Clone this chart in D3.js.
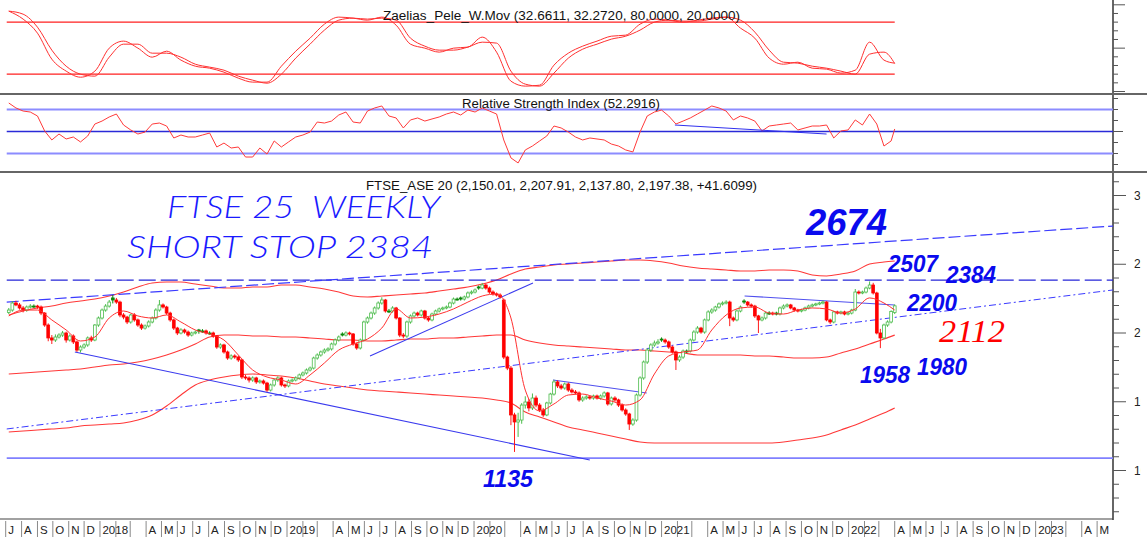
<!DOCTYPE html>
<html>
<head>
<meta charset="UTF-8">
<title>FTSE 25 weekly</title>
<script src="https://d3js.org/d3.v7.min.js"></script>
<style>
  body { margin: 0; background: #fff; }
  svg { display: block; font-family: "Liberation Sans", Arial, sans-serif; }
  .title { font-size: 12.5px; fill: #111; }
  .month { font-size: 11.5px; fill: #222; }
  .plabel { font-size: 12px; fill: #222; }
  .hand { font-family: Lato, "Open Sans", sans-serif; font-style: italic; font-weight: 300; fill: #1a1aff; white-space: pre; }
  .lvl { font-style: italic; font-weight: bold; fill: #0a0aee; }
</style>
</head>
<body>
<svg id="chart" width="1147" height="542"></svg>
<script>
// weekly candles, first bar week ending 2017-07-07
const opens = [
  2150, 2167, 2218, 2204, 2182, 2167, 2189, 2196, 2196, 2189,
  2145, 2058, 1964, 1949, 1971, 1985, 2000, 1949, 1978, 1935,
  1876, 1898, 1913, 1964, 1949, 2058, 2109, 2167, 2196, 2255,
  2240, 2225, 2131, 2116, 2080, 2131, 2095, 2058, 2036, 2051,
  2080, 2109, 2167, 2204, 2189, 2145, 2095, 2036, 2000, 2022,
  2007, 1985, 2000, 2022, 2015, 2015, 2000, 2000, 1978, 1898,
  1913, 1862, 1818, 1833, 1825, 1804, 1680, 1673, 1658, 1673,
  1644, 1651, 1636, 1585, 1622, 1658, 1673, 1622, 1615, 1651,
  1658, 1673, 1695, 1709, 1731, 1745, 1818, 1840, 1862, 1876,
  1884, 1920, 1949, 1993, 1985, 2000, 1993, 1920, 1891, 1949,
  2080, 2109, 2145, 2182, 2218, 2240, 2160, 2160, 2182, 2109,
  1985, 1978, 2080, 2124, 2145, 2131, 2160, 2109, 2095, 2138,
  2160, 2175, 2182, 2189, 2218, 2247, 2255, 2247, 2262, 2291,
  2298, 2335, 2327, 2349, 2327, 2298, 2284, 2276, 2240, 1825,
  1745, 1404, 1353, 1367, 1476, 1498, 1455, 1527, 1476, 1440,
  1404, 1491, 1556, 1644, 1615, 1600, 1629, 1585, 1571, 1564,
  1513, 1527, 1535, 1527, 1542, 1527, 1542, 1564, 1484, 1527,
  1513, 1476, 1440, 1411, 1338, 1367, 1549, 1673, 1789, 1876,
  1913, 1927, 1956, 1949, 1935, 1898, 1862, 1804, 1825, 1869,
  1869, 1949, 2007, 2036, 2007, 2095, 2153, 2167, 2189, 2211,
  2218, 2225, 2109, 2095, 2160, 2233, 2225, 2204, 2196, 2124,
  2095, 2109, 2145, 2145, 2145, 2138, 2182, 2196, 2204, 2182,
  2167, 2160, 2167, 2182, 2196, 2204, 2211, 2218, 2225, 2095,
  2080, 2153, 2145, 2153, 2138, 2145, 2167, 2298, 2291, 2298,
  2327, 2349, 2291, 2000, 1964, 2058, 2080, 2150.01
];
const highs = [
  2182, 2232, 2235, 2218, 2196, 2200, 2210, 2208, 2205, 2200,
  2152, 2070, 1985, 1990, 1998, 2015, 2010, 1990, 1990, 1945,
  1910, 1925, 1975, 1980, 2065, 2120, 2178, 2210, 2240, 2276,
  2255, 2235, 2145, 2125, 2140, 2145, 2105, 2070, 2062, 2092,
  2120, 2180, 2240, 2215, 2198, 2155, 2105, 2045, 2035, 2032,
  2018, 2010, 2018, 2030, 2028, 2025, 2012, 2010, 1985, 1925,
  1922, 1872, 1845, 1845, 1835, 1812, 1695, 1685, 1685, 1682,
  1662, 1662, 1645, 1632, 1668, 1685, 1682, 1632, 1662, 1670,
  1685, 1705, 1720, 1742, 1756, 1828, 1852, 1872, 1888, 1896,
  1930, 1960, 1982, 2005, 2012, 2010, 2000, 1930, 1960, 2090,
  2120, 2156, 2193, 2230, 2260, 2248, 2175, 2195, 2190, 2115,
  2000, 2090, 2135, 2156, 2155, 2170, 2168, 2118, 2148, 2170,
  2185, 2192, 2200, 2228, 2258, 2258, 2265, 2272, 2302, 2310,
  2324, 2345, 2364, 2360, 2338, 2310, 2295, 2288, 2250, 1835,
  1760, 1420, 1420, 1490, 1540, 1520, 1560, 1545, 1490, 1455,
  1500, 1565, 1660, 1656, 1630, 1640, 1640, 1598, 1585, 1575,
  1540, 1548, 1545, 1552, 1552, 1553, 1575, 1572, 1538, 1540,
  1522, 1488, 1452, 1420, 1380, 1560, 1685, 1800, 1890, 1925,
  1945, 1955, 1968, 1960, 1945, 1908, 1872, 1838, 1880, 1880,
  1960, 2020, 2050, 2045, 2105, 2165, 2180, 2198, 2222, 2230,
  2238, 2235, 2120, 2172, 2200, 2245, 2232, 2215, 2205, 2132,
  2120, 2156, 2158, 2155, 2155, 2192, 2208, 2215, 2212, 2190,
  2176, 2176, 2192, 2206, 2214, 2220, 2228, 2236, 2232, 2105,
  2162, 2162, 2162, 2162, 2155, 2176, 2320, 2310, 2308, 2338,
  2375, 2365, 2300, 2030, 2068, 2092, 2165, 2207.91
];
const lows = [
  2138, 2155, 2195, 2170, 2150, 2155, 2178, 2182, 2176, 2130,
  2045, 1940, 1920, 1935, 1960, 1972, 1930, 1938, 1920, 1862,
  1858, 1885, 1900, 1935, 1940, 2045, 2098, 2155, 2185, 2215,
  2212, 2115, 2100, 2065, 2068, 2082, 2045, 2022, 2025, 2040,
  2070, 2098, 2155, 2178, 2132, 2082, 2022, 1985, 1990, 1995,
  1972, 1975, 1990, 1995, 2002, 1988, 1988, 1965, 1885, 1885,
  1850, 1805, 1806, 1812, 1790, 1665, 1660, 1640, 1645, 1630,
  1632, 1625, 1572, 1575, 1610, 1645, 1610, 1600, 1605, 1640,
  1648, 1662, 1684, 1698, 1720, 1735, 1806, 1828, 1850, 1865,
  1872, 1908, 1938, 1975, 1975, 1982, 1908, 1878, 1880, 1938,
  2068, 2098, 2132, 2170, 2206, 2148, 2145, 2148, 2098, 1970,
  1962, 1965, 2068, 2112, 2120, 2120, 2098, 2082, 2085, 2128,
  2150, 2165, 2172, 2180, 2208, 2236, 2236, 2236, 2252, 2280,
  2288, 2315, 2318, 2315, 2285, 2272, 2265, 2250, 1810, 1730,
  1330, 1135, 1244, 1340, 1450, 1430, 1440, 1460, 1425, 1390,
  1395, 1480, 1545, 1600, 1588, 1588, 1572, 1560, 1552, 1500,
  1500, 1515, 1515, 1515, 1516, 1515, 1530, 1472, 1472, 1500,
  1462, 1428, 1398, 1295, 1325, 1355, 1538, 1660, 1775, 1862,
  1900, 1915, 1936, 1922, 1885, 1850, 1731, 1790, 1812, 1855,
  1858, 1938, 1995, 1995, 1995, 2085, 2140, 2155, 2178, 2200,
  2208, 2050, 2082, 2085, 2150, 2212, 2192, 2185, 2110, 2000,
  2085, 2098, 2132, 2128, 2128, 2128, 2172, 2186, 2172, 2155,
  2150, 2150, 2158, 2172, 2186, 2195, 2202, 2208, 2085, 2065,
  2070, 2135, 2135, 2128, 2128, 2135, 2158, 2280, 2282, 2288,
  2318, 2280, 1990, 1890, 1955, 2045, 2070, 2137.8
];
const closes = [
  2167, 2218, 2204, 2182, 2167, 2189, 2196, 2196, 2189, 2145,
  2058, 1964, 1949, 1971, 1985, 2000, 1949, 1978, 1935, 1876,
  1898, 1913, 1964, 1949, 2058, 2109, 2167, 2196, 2225, 2240,
  2225, 2131, 2116, 2080, 2131, 2095, 2058, 2036, 2051, 2080,
  2109, 2167, 2204, 2189, 2145, 2095, 2036, 2000, 2022, 2007,
  1985, 2000, 2007, 2015, 2015, 2000, 2000, 1978, 1898, 1913,
  1862, 1818, 1833, 1825, 1804, 1680, 1673, 1658, 1673, 1644,
  1651, 1636, 1585, 1622, 1658, 1673, 1622, 1615, 1651, 1658,
  1673, 1695, 1709, 1731, 1745, 1818, 1840, 1862, 1876, 1884,
  1920, 1949, 1971, 1985, 2000, 1993, 1920, 1891, 1949, 2080,
  2109, 2145, 2182, 2218, 2240, 2160, 2160, 2182, 2109, 1985,
  1978, 2080, 2124, 2145, 2131, 2160, 2109, 2095, 2138, 2160,
  2175, 2182, 2189, 2218, 2247, 2247, 2247, 2262, 2291, 2298,
  2313, 2327, 2349, 2327, 2298, 2284, 2276, 2262, 1825, 1745,
  1404, 1353, 1367, 1476, 1498, 1455, 1527, 1476, 1440, 1404,
  1491, 1556, 1644, 1615, 1600, 1629, 1585, 1571, 1564, 1513,
  1527, 1535, 1527, 1542, 1527, 1542, 1564, 1484, 1527, 1513,
  1476, 1440, 1411, 1338, 1367, 1549, 1673, 1789, 1876, 1913,
  1927, 1935, 1949, 1935, 1898, 1862, 1804, 1825, 1869, 1869,
  1949, 2007, 2036, 2007, 2095, 2153, 2167, 2189, 2211, 2218,
  2225, 2109, 2095, 2160, 2189, 2225, 2204, 2196, 2124, 2095,
  2109, 2145, 2145, 2138, 2138, 2182, 2196, 2204, 2182, 2167,
  2160, 2167, 2182, 2196, 2204, 2211, 2218, 2225, 2095, 2080,
  2153, 2145, 2153, 2138, 2145, 2167, 2298, 2291, 2298, 2327,
  2349, 2291, 2000, 1964, 2058, 2080, 2156, 2197.38
];

// indicator readings, one value every 4th week (last one = last week)
const fastMA = [
  2124, 2167, 2167, 2095, 2022, 1942, 1971, 2109, 2160, 2124,
  2109, 2131, 2080, 2022, 1993, 1949, 1840, 1731, 1680, 1658,
  1629, 1695, 1782, 1876, 1920, 1956, 2036, 2175, 2109, 2116,
  2138, 2175, 2225, 2269, 2284, 2109, 1585, 1433, 1484, 1549,
  1556, 1527, 1505, 1476, 1513, 1702, 1833, 1862, 1876, 2022,
  2131, 2182, 2189, 2145, 2138, 2167, 2182, 2175, 2145, 2175,
  2255, 2218, 2167
];
const bandUpper = [
  2131, 2160, 2182, 2196, 2218, 2233, 2247, 2269, 2298, 2335,
  2364, 2371, 2371, 2356, 2342, 2327, 2327, 2335, 2335, 2349,
  2349, 2335, 2320, 2298, 2269, 2262, 2269, 2276, 2284, 2291,
  2305, 2320, 2335, 2356, 2385, 2429, 2465, 2480, 2495, 2502,
  2509, 2516, 2524, 2531, 2531, 2524, 2509, 2487, 2473, 2465,
  2458, 2451, 2451, 2458, 2458, 2451, 2422, 2415, 2429, 2451,
  2502, 2516, 2524
];
const bandMid = [
  1702, 1709, 1716, 1724, 1731, 1738, 1753, 1767, 1775, 1789,
  1811, 1840, 1876, 1920, 1971, 1985, 1985, 1978, 1978, 1971,
  1971, 1964, 1956, 1949, 1949, 1942, 1942, 1949, 1956, 1956,
  1964, 1964, 1971, 1978, 1985, 1985, 1949, 1927, 1913, 1905,
  1898, 1891, 1884, 1876, 1876, 1869, 1862, 1855, 1840, 1840,
  1840, 1840, 1833, 1833, 1825, 1818, 1818, 1825, 1855, 1884,
  1920, 1956, 1985
];
const bandLower = [
  1280, 1287, 1295, 1302, 1309, 1324, 1331, 1338, 1345, 1367,
  1404, 1469, 1549, 1622, 1658, 1680, 1695, 1702, 1695, 1687,
  1673, 1651, 1629, 1615, 1600, 1585, 1578, 1571, 1564, 1556,
  1549, 1542, 1535, 1527, 1513, 1491, 1425, 1389, 1353, 1316,
  1295, 1273, 1251, 1229, 1207, 1200, 1200, 1200, 1200, 1200,
  1200, 1200, 1200, 1200, 1207, 1222, 1236, 1258, 1295, 1331,
  1375, 1418, 1455
];
const oscFast = [
  92.7, 83.5, 67.3, 37.3, 23.5, 16.5, 23.5, 50, 58.1, 50,
  39.6, 46.5, 36.2, 29.2, 26.9, 22.3, 15.4, 10.8, 10.8, 29.2,
  46.5, 61.5, 77.7, 85.8, 84.6, 82.3, 85.8, 76.5, 54.6, 50,
  45.4, 50, 51.2, 62.7, 45.4, 11.9, 6.2, 7.3, 30.4, 44.2,
  52.3, 58.1, 63.8, 65, 77.7, 83.5, 82.3, 80, 82.3, 84.6,
  85.8, 73.1, 61.5, 38.5, 31.5, 33.8, 26.9, 25.8, 21.2, 24.6,
  56.9, 36.2, 32.66
];
const oscSlow = [
  92.7, 89.2, 74.2, 47.7, 29.2, 20, 17.7, 39.6, 54.6, 54.6,
  44.2, 44.2, 39.6, 31.5, 28.1, 24.6, 17.7, 13.1, 9.6, 20,
  38.5, 54.6, 70.8, 82.3, 84.6, 83.5, 84.6, 82.3, 61.5, 52.3,
  47.7, 47.7, 51.2, 56.9, 55.8, 23.5, 8.5, 6.2, 21.2, 38.5,
  48.8, 54.6, 60.4, 63.8, 70.8, 80, 82.3, 81.2, 81.2, 83.5,
  85.8, 82.3, 68.5, 47.7, 33.8, 32.7, 29.2, 26.9, 23.5, 20,
  43.1, 45.4, 32.27
];
// RSI, one value every 2nd week
const rsi = [
  75.9, 71.4, 68.6, 67.7, 64.1, 50.5, 42.3, 47.7, 43.2, 45,
  40.5, 45.9, 56.8, 59.5, 63.2, 65.9, 55.9, 51.4, 47.7, 49.5,
  56.8, 57.7, 55, 44.1, 46.8, 45, 45, 46.8, 48.6, 35.9,
  39.5, 35, 35.9, 26.8, 26.8, 35, 29.5, 41.4, 35.9, 40.5,
  45, 46.8, 49.5, 58.6, 57.7, 59.5, 65, 67.7, 58.6, 57.7,
  68.6, 71.4, 73.2, 64.1, 62.3, 53.2, 60.5, 62.3, 59.5, 61.4,
  63.2, 65.9, 67.7, 65, 69.5, 67.7, 71.4, 68.6, 65.9, 42.3,
  26, 21.4, 33.2, 36.8, 41.4, 45.9, 55, 53.2, 49.5, 45,
  42.3, 44.1, 43.2, 42.3, 38.6, 36.8, 33.2, 31.4, 49.5, 64.1,
  67.7, 69.5, 64.1, 56.8, 59.5, 62.3, 65.9, 69.5, 73.2, 71.4,
  68.6, 60.5, 64.1, 62.3, 59.5, 50.5, 55, 55.9, 56.8, 57.7,
  51.4, 53.2, 55, 55, 55.9, 44.1, 50.5, 51.4, 60.5, 55.9,
  65.9, 56.8, 36.8, 41.4, 52.29
];

// hand drawn lines
const channelTop = [["2017-07-03", 2225], ["2023-06-01", 2778]];
const channelBottom = [["2017-07-03", 1302], ["2023-06-01", 2313]];
const fallLine = [["2017-11-13", 1862], ["2020-08-14", 1076]];
const rise2019 = [["2019-06-12", 1833], ["2020-04-25", 2364]];
const drift2020 = [["2020-06-03", 1658], ["2020-12-03", 1564]];
const cap2021 = [["2021-06-12", 2269], ["2022-04-01", 2204]];
const rsiTrend = [["2021-01-27", 55.9], ["2021-11-19", 47.7]];
const stopLevel = 2384;
const floorLevel = 1090;
const oscLevels = [80, 20];
const rsiLevels = [70, 50, 30];
const priceLabels = [1000, 1500, 2000, 2500, 3000];
const monthLetters = ["J", "F", "M", "A", "M", "J", "J", "A", "S", "O", "N", "D"];

const AXIS_X = 1113;
const svg = d3.select("#chart");
const utc = s => new Date(s + "T00:00:00Z");

const t0 = utc("2017-07-07");
const weeks = closes.map((c, i) => d3.utcDay.offset(t0, 7 * i));
const lineStart = utc("2017-07-03");

const x = d3.scaleUtc()
  .domain([utc("2017-07-01"), utc("2023-06-01")])
  .range([5.7, AXIS_X]);
const yOsc = d3.scaleLinear().domain([0, 100]).range([91.5, 4.8]);
const yRsi = d3.scaleLinear().domain([30, 70]).range([153.5, 109.5]);
const yPx = d3.scaleLinear().domain([1000, 3000]).range([470.5, 195.5]);

const sampled = (vals, step) => vals.map((v, i) => ({ d: weeks[Math.min(i * step, weeks.length - 1)], v }));

// ---------- frame ----------
[94, 172].forEach(yy => {
  svg.append("line").attr("x1", 0).attr("x2", 1147).attr("y1", yy).attr("y2", yy)
    .attr("stroke", "#333").attr("stroke-width", 1.4);
});
svg.append("line").attr("x1", AXIS_X).attr("x2", AXIS_X).attr("y1", 0).attr("y2", 520)
  .attr("stroke", "#666").attr("stroke-width", 2);
svg.append("line").attr("x1", 0).attr("x2", AXIS_X).attr("y1", 519).attr("y2", 519)
  .attr("stroke", "#444").attr("stroke-width", 1.2);

// right axis ticks
const tickG = svg.append("g").attr("stroke", "#555");
d3.range(0, 101, 10).forEach(v => {
  tickG.append("line").attr("x1", AXIS_X).attr("x2", AXIS_X + (v % 50 === 0 ? 12 : 5))
    .attr("y1", yOsc(v)).attr("y2", yOsc(v));
});
d3.range(20, 81, 10).forEach(v => {
  tickG.append("line").attr("x1", AXIS_X).attr("x2", AXIS_X + (v === 50 ? 10 : 5))
    .attr("y1", yRsi(v)).attr("y2", yRsi(v));
});
d3.range(700, 3101, 100).forEach(v => {
  tickG.append("line").attr("x1", AXIS_X).attr("x2", AXIS_X + (v % 500 === 0 ? 13 : 6))
    .attr("y1", yPx(v)).attr("y2", yPx(v));
});
// the price labels run past the window edge, only the leading digit shows
svg.append("clipPath").attr("id", "labelClip").append("rect")
  .attr("x", AXIS_X).attr("y", 172).attr("width", 27.5).attr("height", 350);
svg.append("g").attr("clip-path", "url(#labelClip)")
  .selectAll("text").data(priceLabels).join("text")
  .attr("class", "plabel")
  .attr("x", AXIS_X + 21).attr("y", d => yPx(d) + 4)
  .text(d => d);

// month axis
const months = d3.utcMonths(utc("2017-07-01"), utc("2023-06-01"));
svg.append("g").selectAll("line").data(months).join("line")
  .attr("x1", d => x(d)).attr("x2", d => x(d)).attr("y1", 521).attr("y2", 537)
  .attr("stroke", "#8a8a8a");
svg.append("g").selectAll("text")
  .data(months.filter(d => d.getUTCMonth() !== 1 && d.getUTCMonth() !== 2))
  .join("text").attr("class", "month")
  .attr("x", d => x(d) + 2.5).attr("y", 534)
  .text(d => d.getUTCMonth() === 0 ? d.getUTCFullYear() : monthLetters[d.getUTCMonth()]);

// ---------- top oscillator ----------
const oscG = svg.append("g");
oscG.selectAll("line.lvl").data(oscLevels).join("line")
  .attr("x1", x(lineStart)).attr("x2", x(weeks[weeks.length - 1]))
  .attr("y1", d => yOsc(d)).attr("y2", d => yOsc(d))
  .attr("stroke", "#ff2020").attr("stroke-width", 1.4);
const oscLine = d3.line().x(d => x(d.d)).y(d => yOsc(d.v)).curve(d3.curveMonotoneX);
[oscSlow, oscFast].forEach(s => {
  oscG.append("path").attr("d", oscLine(sampled(s, 4)))
    .attr("fill", "none").attr("stroke", "#ff3030").attr("stroke-width", 1);
});
oscG.append("text").attr("class", "title").attr("x", 383).attr("y", 20)
  .attr("textLength", 357).attr("lengthAdjust", "spacingAndGlyphs")
  .text("Zaelias_Pele_W.Mov (32.6611, 32.2720, 80.0000, 20.0000)");

// ---------- RSI ----------
const rsiG = svg.append("g");
rsiG.selectAll("line.lvl").data(rsiLevels).join("line")
  .attr("x1", x(lineStart)).attr("x2", AXIS_X)
  .attr("y1", d => yRsi(d)).attr("y2", d => yRsi(d))
  .attr("stroke", d => d === 50 ? "#2a2ad8" : "#8c8cff")
  .attr("stroke-width", d => d === 50 ? 1.3 : 2);
rsiG.append("path")
  .attr("d", d3.line().x(d => x(d.d)).y(d => yRsi(d.v))(sampled(rsi, 2)))
  .attr("fill", "none").attr("stroke", "#ff3a3a").attr("stroke-width", 1);
rsiG.append("line")
  .attr("x1", x(utc(rsiTrend[0][0]))).attr("y1", yRsi(rsiTrend[0][1]))
  .attr("x2", x(utc(rsiTrend[1][0]))).attr("y2", yRsi(rsiTrend[1][1]))
  .attr("stroke", "#3030ee").attr("stroke-width", 1);
rsiG.append("text").attr("class", "title").attr("x", 462).attr("y", 108)
  .attr("textLength", 198).attr("lengthAdjust", "spacingAndGlyphs")
  .text("Relative Strength Index (52.2916)");

// ---------- main price panel ----------
svg.append("clipPath").attr("id", "mainClip").append("rect")
  .attr("x", 0).attr("y", 173).attr("width", AXIS_X).attr("height", 345);
const main = svg.append("g").attr("clip-path", "url(#mainClip)");

main.append("text").attr("class", "title").attr("x", 366).attr("y", 190)
  .attr("textLength", 391).attr("lengthAdjust", "spacingAndGlyphs")
  .text("FTSE_ASE 20 (2,150.01, 2,207.91, 2,137.80, 2,197.38, +41.6099)");

const priceLine = d3.line().x(d => x(d.d)).y(d => yPx(d.v)).curve(d3.curveMonotoneX);
[bandUpper, bandMid, bandLower].forEach(s => {
  main.append("path").attr("d", priceLine(sampled(s, 4)))
    .attr("fill", "none").attr("stroke", "#ff3838").attr("stroke-width", 1.1);
});

// horizontal levels and trend lines
const seg = (pts, stroke, dash, w) => {
  main.append("line")
    .attr("x1", x(utc(pts[0][0]))).attr("y1", yPx(pts[0][1]))
    .attr("x2", x(utc(pts[1][0]))).attr("y2", yPx(pts[1][1]))
    .attr("stroke", stroke).attr("stroke-width", w || 1)
    .attr("stroke-dasharray", dash || null);
};
main.append("line").attr("x1", x(lineStart)).attr("x2", AXIS_X)
  .attr("y1", yPx(stopLevel)).attr("y2", yPx(stopLevel))
  .attr("stroke", "#2626d8").attr("stroke-width", 1.2).attr("stroke-dasharray", "17,5");
main.append("line").attr("x1", x(lineStart)).attr("x2", AXIS_X)
  .attr("y1", yPx(floorLevel)).attr("y2", yPx(floorLevel))
  .attr("stroke", "#8080ff").attr("stroke-width", 1.6);
seg(channelTop, "#3a3aff", "12,4", 1.2);
seg(channelBottom, "#3a3aff", "7,3,2,3", 1);
seg(fallLine, "#3a3aee", null, 1.1);
seg(rise2019, "#3a3aee", null, 1.1);
seg(drift2020, "#5050ee", null, 1.1);
seg(cap2021, "#5050ee", null, 1.1);

// candles
const candles = closes.map((c, i) => ({
  d: weeks[i], o: opens[i], h: highs[i], l: lows[i], c,
  up: i === 0 ? c >= opens[i] : c >= closes[i - 1]
}));
const gC = main.append("g");
gC.selectAll("line").data(candles).join("line")
  .attr("x1", d => x(d.d)).attr("x2", d => x(d.d))
  .attr("y1", d => yPx(d.h)).attr("y2", d => yPx(d.l))
  .attr("stroke", d => d.up ? (d.c > d.o ? "#4cbc4c" : "#0a880a") : "#ff1a1a")
  .attr("stroke-width", 1);
gC.selectAll("rect").data(candles).join("rect")
  .attr("x", d => x(d.d) - 1.4).attr("width", 2.8)
  .attr("y", d => yPx(Math.max(d.o, d.c)))
  .attr("height", d => Math.max(1, Math.abs(yPx(d.o) - yPx(d.c))))
  .attr("fill", d => d.c > d.o ? "#fff" : (d.up ? "#0a880a" : "#ff0000"))
  .attr("stroke", d => d.up ? (d.c > d.o ? "#4cbc4c" : "#0a880a") : "#ff0000")
  .attr("stroke-width", 0.8);

main.append("path").attr("d", priceLine(sampled(fastMA, 4)))
  .attr("fill", "none").attr("stroke", "#ff3030").attr("stroke-width", 1);

// annotations
const hand = [["FTSE 25  WEEKLY", 167, 218, 273], ["SHORT STOP 2384", 127, 258, 306]];
hand.forEach(([t, hx, hy, len]) => {
  main.append("text").attr("class", "hand").attr("x", hx).attr("y", hy)
    .attr("xml:space", "preserve")
    .attr("font-size", 31).attr("textLength", len).attr("lengthAdjust", "spacingAndGlyphs")
    .text(t);
});
const levels = [
  ["2674", 806, 235, 37, 81],
  ["2507", 888, 272, 23, 50],
  ["2384", 946, 283, 23, 50],
  ["2200", 907, 311, 23, 50],
  ["1958", 860, 383, 23, 50],
  ["1980", 917, 375, 23, 50],
  ["1135", 483, 487, 23, 50]
];
levels.forEach(([t, lx, ly, fs, len]) => {
  main.append("text").attr("class", "lvl").attr("x", lx).attr("y", ly)
    .attr("font-size", fs).attr("textLength", len).attr("lengthAdjust", "spacingAndGlyphs")
    .text(t);
});
main.append("text").attr("x", 939).attr("y", 342)
  .attr("font-family", "'Liberation Serif', 'Times New Roman', serif")
  .attr("font-style", "italic").attr("font-size", 32).attr("fill", "#ff0000")
  .attr("textLength", 66).attr("lengthAdjust", "spacingAndGlyphs")
  .text("2112");
</script>
</body>
</html>
